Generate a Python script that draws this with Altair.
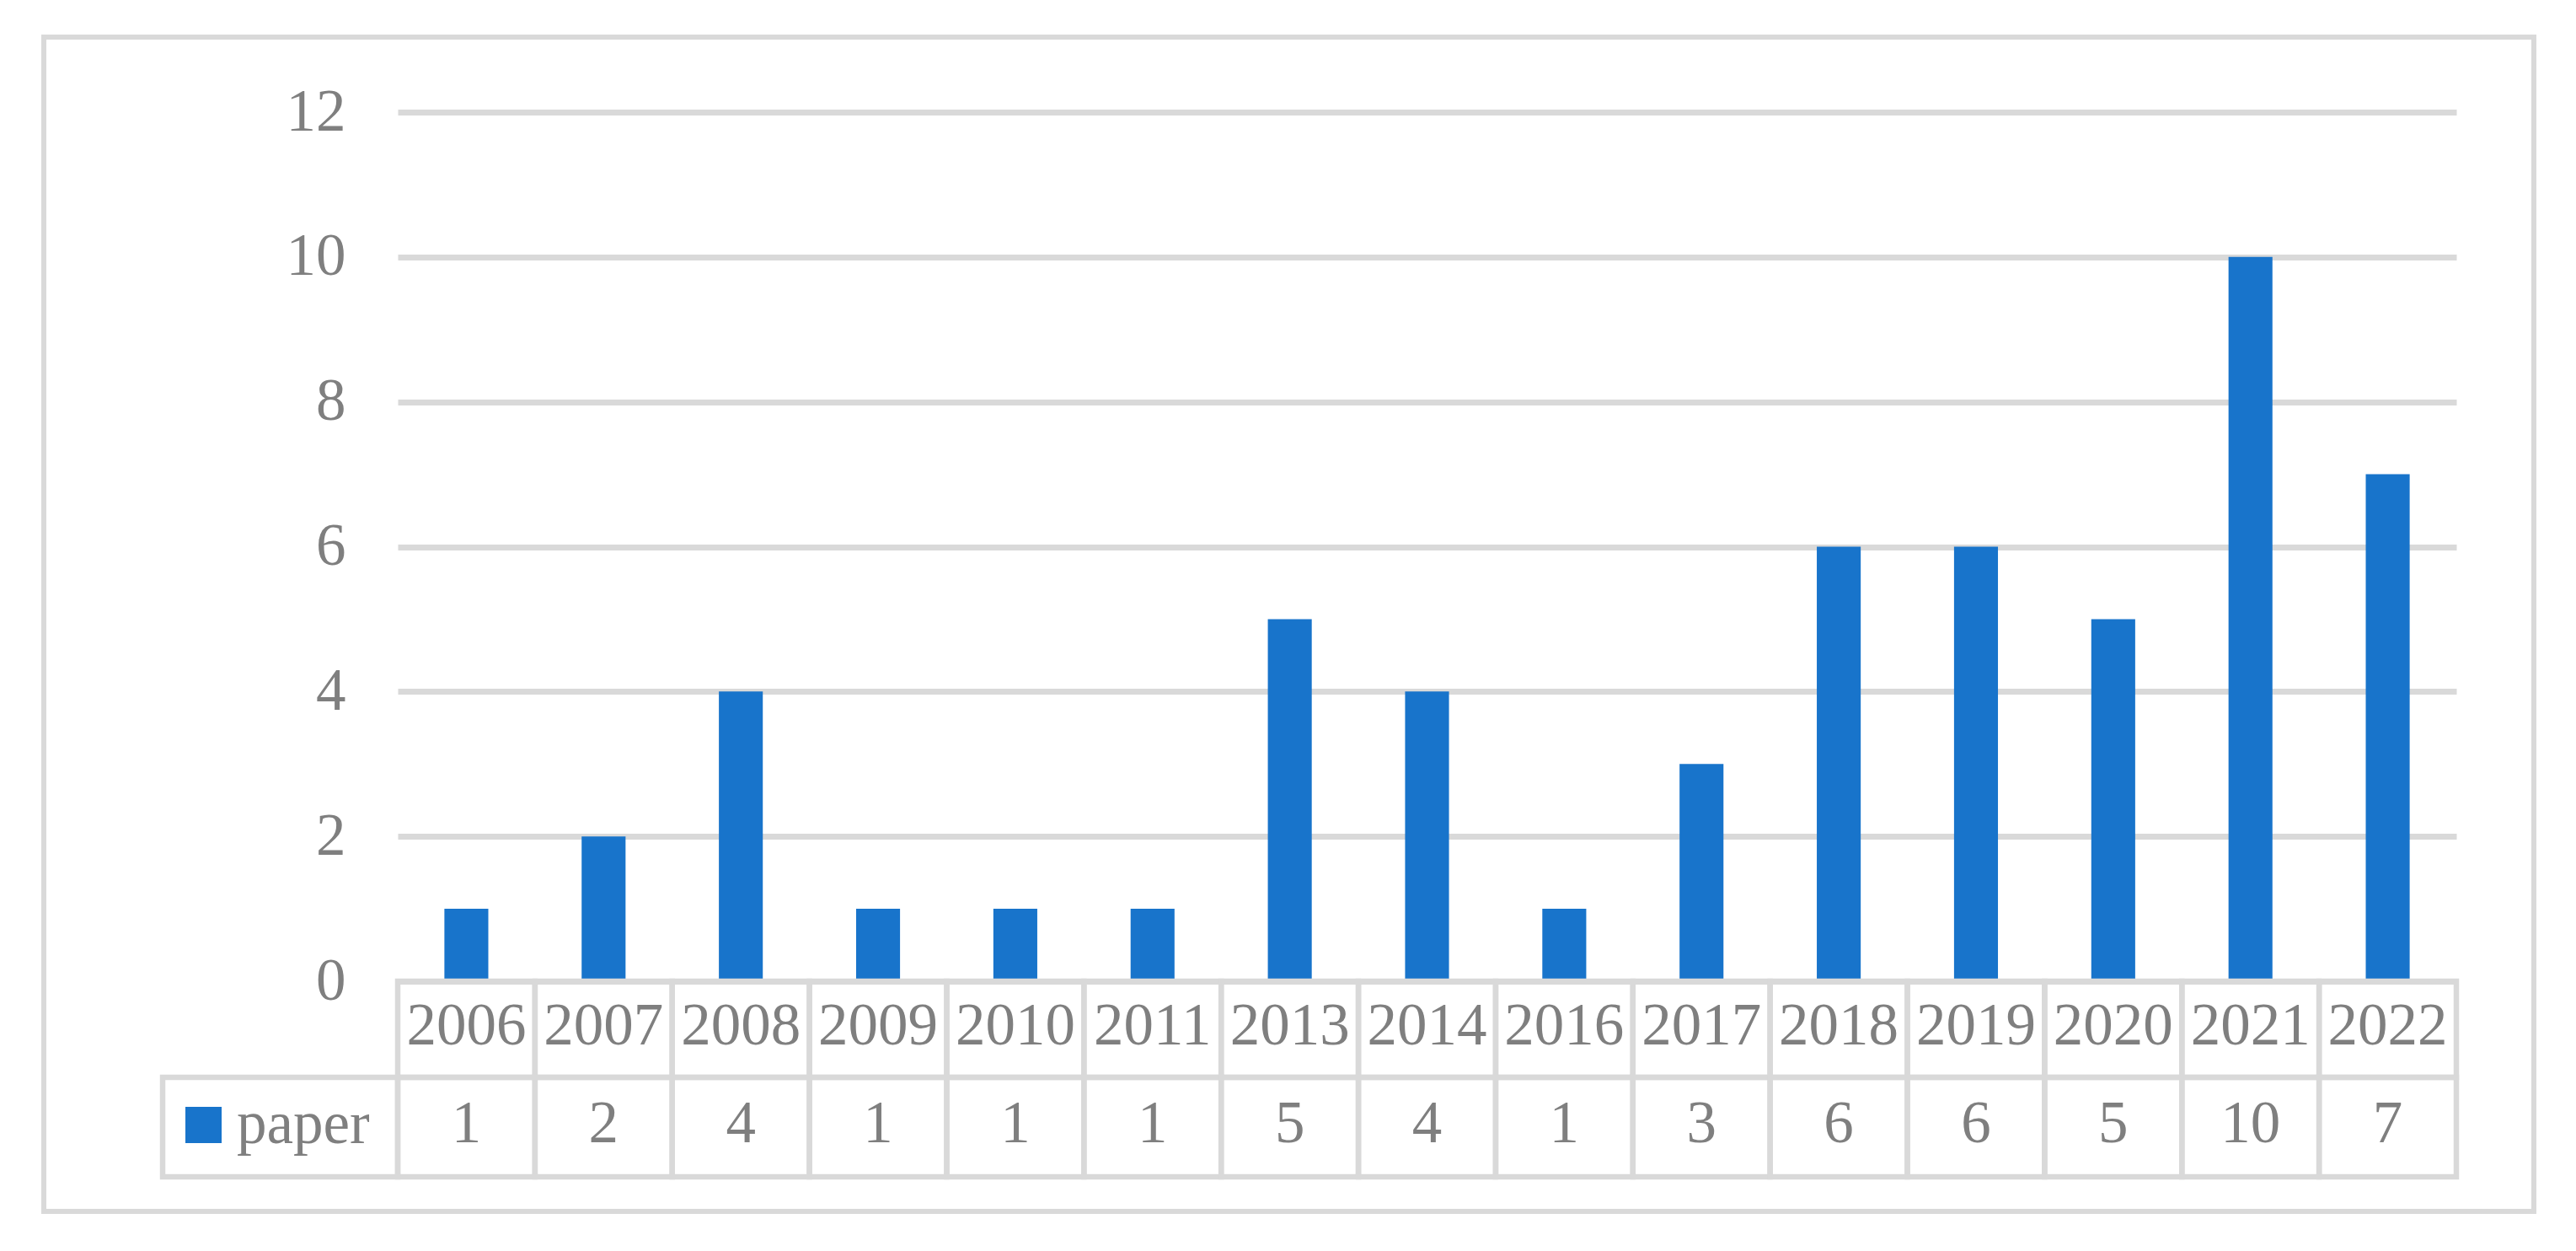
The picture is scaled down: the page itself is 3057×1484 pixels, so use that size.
import altair as alt
import pandas as pd

years = ["2006", "2007", "2008", "2009", "2010", "2011", "2013", "2014",
         "2016", "2017", "2018", "2019", "2020", "2021", "2022"]
papers = [1, 2, 4, 1, 1, 1, 5, 4, 1, 3, 6, 6, 5, 10, 7]
series_name = "paper"
y_ticks = [0, 2, 4, 6, 8, 10, 12]

BLUE = "#1874CB"
GRAY = "#7F7F7F"
LINE = "#D9D9D9"
FONT = "Liberation Serif"
FS = 71

df = pd.DataFrame({"year": years, "count": papers, "series": [series_name] * len(years)})
one = pd.DataFrame({"k": [0]})

xenc = alt.X("year:N", sort=years, axis=None,
             scale=alt.Scale(paddingInner=0, paddingOuter=0))

frame = alt.Chart(one).mark_rect(fillOpacity=0, stroke=LINE, strokeWidth=6).encode(
    x=alt.value(-420), x2=alt.value(2535), y=alt.value(-89), y2=alt.value(1304)
)

bars = alt.Chart(df).mark_bar(width=alt.RelativeBandSize(0.32)).encode(
    x=xenc,
    y=alt.Y("count:Q",
            scale=alt.Scale(domain=[0, 12], nice=False),
            axis=alt.Axis(values=y_ticks, title=None, domain=False, ticks=False,
                          labelFont=FONT, labelFontSize=FS, labelColor=GRAY,
                          labelPadding=62, grid=True, gridColor=LINE, gridWidth=7)),
    color=alt.Color("series:N",
                    scale=alt.Scale(domain=[series_name], range=[BLUE]),
                    legend=alt.Legend(orient="none", legendX=-266, legendY=1166,
                                      title=None, symbolType="square", symbolSize=1849,
                                      symbolStrokeWidth=0, labelFont=FONT,
                                      labelFontSize=FS, labelColor=GRAY,
                                      labelOffset=4, padding=0)),
)

header_cells = alt.Chart(df).mark_rect(fillOpacity=0, stroke=LINE, strokeWidth=6.5).encode(
    x=xenc, y=alt.value(1031), y2=alt.value(1145)
)
value_cells = alt.Chart(df).mark_rect(fillOpacity=0, stroke=LINE, strokeWidth=6.5).encode(
    x=xenc, y=alt.value(1145), y2=alt.value(1263)
)
legend_cell = alt.Chart(one).mark_rect(fillOpacity=0, stroke=LINE, strokeWidth=6.5).encode(
    x=alt.value(-279), x2=alt.value(0), y=alt.value(1145), y2=alt.value(1263)
)

year_text = alt.Chart(df).mark_text(font=FONT, fontSize=FS, color=GRAY,
                                    align="center", baseline="middle").encode(
    x=xenc, y=alt.value(1085), text="year:N"
)
value_text = alt.Chart(df).mark_text(font=FONT, fontSize=FS, color=GRAY,
                                     align="center", baseline="middle").encode(
    x=xenc, y=alt.value(1201), text="count:Q"
)

chart = alt.layer(frame, bars, header_cells, value_cells, legend_cell,
                  year_text, value_text).properties(
    width=2443, height=1031,
    autosize=alt.AutoSizeParams(type="none"),
    padding={"left": 464, "top": 125, "right": 134, "bottom": 312},
    background="white",
).configure_view(stroke=None)

chart.save("out.html", embed_options={"renderer": "svg", "actions": False})
